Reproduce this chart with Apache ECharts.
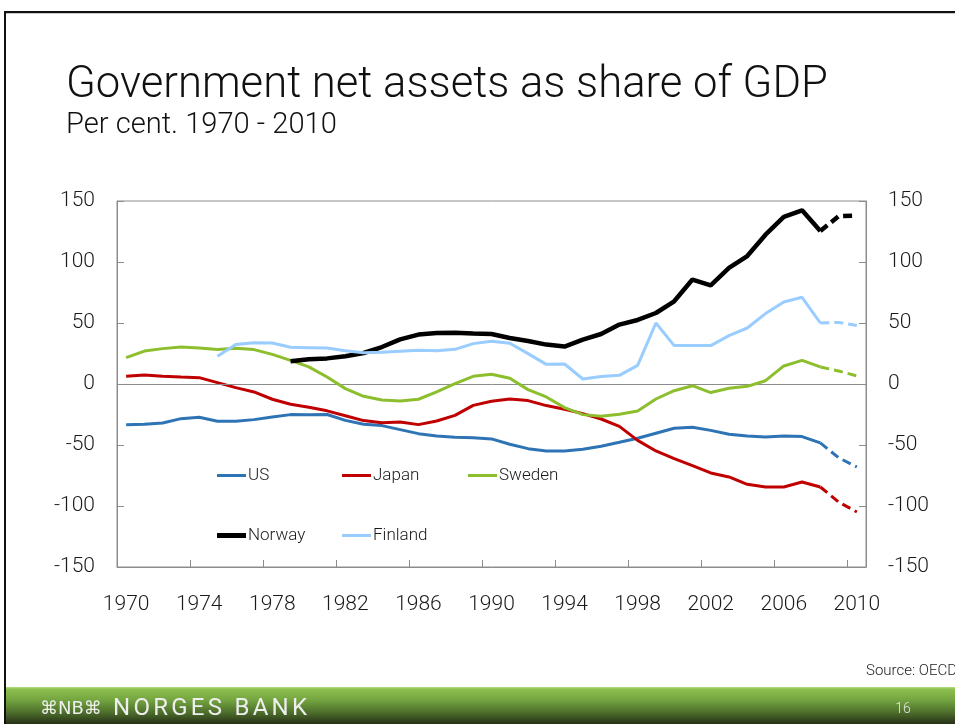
<!DOCTYPE html>
<html>
<head>
<meta charset="utf-8">
<script src="https://cdn.jsdelivr.net/npm/echarts@6/dist/echarts.min.js"></script>
<style>
html,body{margin:0;padding:0;background:#fff;}
#chart{width:955px;height:724px;}
</style>
</head>
<body>
<div id="chart"></div>
<script>
// ---------- data ----------
const years = ['1970','1971','1972','1973','1974','1975','1976','1977','1978','1979',
  '1980','1981','1982','1983','1984','1985','1986','1987','1988','1989',
  '1990','1991','1992','1993','1994','1995','1996','1997','1998','1999',
  '2000','2001','2002','2003','2004','2005','2006','2007','2008','2009','2010'];

const us = [-33.3,-33,-32,-28.4,-27.3,-30.6,-30.6,-29.2,-27,-25.1,
  -25.3,-25,-29.8,-33,-34.1,-37.4,-40.7,-42.6,-43.7,-44,
  -45,-49.4,-53,-54.9,-54.9,-53.5,-51,-47.8,-44.5,-40.4,
  -36.3,-35.5,-38,-41.2,-42.6,-43.4,-42.6,-43.1,-48.3,-60.4,-68];

const japan = [6.3,7.4,6.3,5.7,5.2,1.1,-3,-6.5,-12.5,-16.6,
  -19,-22,-26,-30,-31.7,-31.1,-33.3,-30.3,-25.7,-17.5,
  -14.2,-12.3,-13.6,-17.7,-20.7,-24.3,-28.7,-34.7,-46.2,-54.9,
  -61.2,-66.9,-72.9,-76.2,-82.2,-84.4,-84.4,-80.3,-84.4,-96.7,-104.9];

const sweden = [21.6,27,29,30.3,29.5,28.2,29.3,28.2,24.3,19.4,
  14,5.7,-3.8,-10.1,-13.1,-13.9,-12.5,-6.5,0.3,6.3,
  8,4.7,-4.6,-10.6,-19.4,-25.1,-26.5,-24.8,-22.1,-12.3,
  -5.5,-1.4,-7,-3.5,-1.9,2.7,14.8,19.4,14,10.7,6.6];

const norway = [null,null,null,null,null,null,null,null,null,18.6,
  20.2,21,22.7,25.4,30.3,36.6,40.5,41.8,42.1,41.3,
  41,37.7,35.2,32.3,30.7,36.4,41,48.7,52.5,58.2,
  67.8,85.6,80.9,95.1,104.9,122.4,136.9,142.4,125.4,137.5,138];

const finland = [null,null,null,null,null,22.7,32.3,33.9,33.6,30.1,
  29.8,29.5,27.3,25.7,26,26.8,27.6,27.3,28.4,33.1,
  35,33.4,24.9,16.1,16.4,4.1,6.1,7.1,15.3,50,
  31.5,31.5,31.5,39.7,45.9,57.7,67.2,71.1,50,50.5,48];

const forecastStart = '2008';
const yTicks = {min: -150, max: 150, interval: 50};

// ---------- styling ----------
const FONT = 'Roboto';
const countries = [
  {name: 'US', data: us, color: '#2e74b5', width: 3},
  {name: 'Japan', data: japan, color: '#c00000', width: 3},
  {name: 'Sweden', data: sweden, color: '#8cbe2d', width: 3},
  {name: 'Norway', data: norway, color: '#000000', width: 4.5},
  {name: 'Finland', data: finland, color: '#99ccff', width: 3}
];
const legendPos = {
  US: [217, 467], Japan: [342, 467], Sweden: [468, 467],
  Norway: [217, 527], Finland: [342, 527]
};

function measure(text, family, weight, size) {
  const c = document.createElement('canvas').getContext('2d');
  c.font = weight + ' ' + size + 'px ' + family;
  return c.measureText(text).width;
}
function fitSize(text, family, weight, targetW) {
  return 100 * targetW / measure(text, family, weight, 100);
}

const fIdx = years.indexOf(forecastStart);
const series = [];
countries.forEach(function (c, k) {
  const solid = c.data.map(function (v, i) { return i <= fIdx ? v : null; });
  const dashed = c.data.map(function (v, i) { return i >= fIdx ? v : null; });
  const s = {
    name: c.name, type: 'line', data: solid, symbol: 'none', silent: true,
    lineStyle: {color: c.color, width: c.width}, itemStyle: {color: c.color},
    connectNulls: false, z: 3 + k
  };
  if (k === 0) {
    s.markLine = {
      silent: true, symbol: 'none', label: {show: false},
      lineStyle: {color: '#8c8c8c', width: 1, type: 'solid'},
      data: [{yAxis: 0}]
    };
  }
  series.push(s);
  series.push({
    name: c.name + ' forecast', type: 'line', data: dashed, symbol: 'none', silent: true,
    lineStyle: {color: c.color, width: c.width, type: [9, 5]},
    connectNulls: false, z: 3 + k
  });
});

const legends = countries.map(function (c) {
  return {
    data: [c.name], left: legendPos[c.name][0], top: legendPos[c.name][1],
    padding: 0, icon: 'rect', itemWidth: 29, itemHeight: c.width === 3 ? 3 : 5,
    selectedMode: false,
    textStyle: {fontFamily: FONT, fontWeight: 300, fontSize: 17, color: '#1a1a1a', padding: [0, 0, 0, -3]},
    itemStyle: {color: c.color}
  };
});

const titleText = 'Government net assets as share of GDP';
const subText = 'Per cent. 1970 - 2010';
const titleSize = fitSize(titleText, FONT, 300, 762);
const subSize = fitSize(subText, FONT, 300, 271);

// banner lettering, spread out to the reference width
const bankText = 'NORGES BANK';
const bankSize = 24;
const bankWeight = 400;
const bankLeft = 113, bankRight = 307;
const bankLetters = bankText.split('');
const bankNat = measure(bankText, FONT, bankWeight, bankSize);
const bankSpacing = (bankRight - bankLeft - bankNat) / (bankLetters.length - 1);
const bankGraphics = [];
let bx = bankLeft;
bankLetters.forEach(function (ch) {
  if (ch !== ' ') {
    bankGraphics.push({type: 'text', silent: true, style: {x: bx, y: 709, text: ch, fill: '#eeeeee',
      fontFamily: FONT, fontWeight: bankWeight, fontSize: bankSize, verticalAlign: 'middle', align: 'left'}});
  }
  bx += measure(ch, FONT, bankWeight, bankSize) + bankSpacing;
});

const yAxisCommon = {
  type: 'value', min: yTicks.min, max: yTicks.max, interval: yTicks.interval,
  splitLine: {show: false},
  axisLine: {show: true, lineStyle: {color: '#8c8c8c', width: 1}},
  axisTick: {show: true, inside: true, length: 7, lineStyle: {color: '#8c8c8c'}},
  axisLabel: {fontFamily: FONT, fontWeight: 300, fontSize: 21, color: '#1a1a1a', margin: 22}
};

const chart = echarts.init(document.getElementById('chart'), null, {renderer: 'canvas'});
chart.setOption({
  animation: false,
  backgroundColor: '#ffffff',
  grid: {left: 117, right: 89, top: 201, bottom: 157, show: true, borderColor: '#8c8c8c', borderWidth: 1, backgroundColor: 'transparent'},
  legend: legends,
  xAxis: {
    type: 'category', data: years, boundaryGap: true,
    axisLine: {show: true, onZero: false, lineStyle: {color: '#8c8c8c', width: 1}},
    axisTick: {show: true, inside: true, length: 7, interval: 3, lineStyle: {color: '#8c8c8c'}},
    axisLabel: {interval: 3, fontFamily: FONT, fontWeight: 300, fontSize: 21, color: '#1a1a1a', margin: 27}
  },
  yAxis: [
    Object.assign({position: 'left'}, yAxisCommon),
    Object.assign({position: 'right'}, yAxisCommon)
  ],
  series: series,
  graphic: [
    // slide frame
    {type: 'rect', shape: {x: 4, y: 11, width: 951, height: 2}, style: {fill: '#111'}, silent: true},
    {type: 'rect', shape: {x: 4, y: 13, width: 951, height: 1}, style: {fill: '#c8c8c8'}, silent: true},
    {type: 'rect', shape: {x: 4, y: 11, width: 2, height: 713}, style: {fill: '#111'}, silent: true},
    // title
    {type: 'text', style: {x: 66, y: 86, text: titleText, fill: '#111', fontFamily: FONT, fontWeight: 300, fontSize: titleSize, verticalAlign: 'middle', align: 'left'}, silent: true},
    {type: 'text', style: {x: 66, y: 126, text: subText, fill: '#111', fontFamily: FONT, fontWeight: 300, fontSize: subSize, verticalAlign: 'middle', align: 'left'}, silent: true},
    // source
    {type: 'text', style: {x: 957, y: 671, text: 'Source: OECD', fill: '#222', fontFamily: FONT, fontWeight: 300, fontSize: 15, verticalAlign: 'middle', align: 'right'}, silent: true},
    // banner
    {type: 'rect', shape: {x: 6, y: 687, width: 949, height: 37}, silent: true,
      style: {fill: new echarts.graphic.LinearGradient(0, 0, 0, 1, [
        {offset: 0, color: '#b8de84'},
        {offset: 0.06, color: '#8cc04e'},
        {offset: 0.35, color: '#74a540'},
        {offset: 0.7, color: '#4c6c2b'},
        {offset: 1, color: '#252f16'}
      ])}},
    {type: 'text', style: {x: 40, y: 709, text: '⌘NB⌘', fill: '#eeeeee', fontFamily: 'DejaVu Sans', fontSize: 18, verticalAlign: 'middle', align: 'left'}, silent: true},
    {type: 'text', style: {x: 903, y: 709, text: '16', fill: '#e6e6e6', fontFamily: FONT, fontWeight: 300, fontSize: 14, verticalAlign: 'middle', align: 'center'}, silent: true}
  ].concat(bankGraphics)
});
</script>
</body>
</html>
